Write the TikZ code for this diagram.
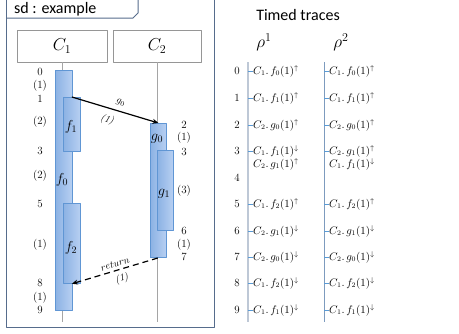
\documentclass[tikz,border=0pt]{standalone}
\usepackage{fontspec}
\newfontfamily\calfont{Carlito}
\usetikzlibrary{arrows.meta}
\definecolor{framec}{RGB}{86,108,140}
\definecolor{boxc}{RGB}{150,150,150}
\definecolor{lifec}{RGB}{165,165,165}
\definecolor{barline}{RGB}{96,150,212}
\definecolor{barleft}{RGB}{140,178,228}
\definecolor{barright}{RGB}{184,208,242}
\definecolor{traceA}{RGB}{190,200,214}
\definecolor{traceB}{RGB}{125,155,190}
\definecolor{tickc}{RGB}{91,155,213}
\newcommand\evu[2]{$C_{#1}.\,#2(1)^{\uparrow}$}
\newcommand\evd[2]{$C_{#1}.\,#2(1)^{\downarrow}$}
\tikzset{
  framel/.style={draw=framec,line width=1pt},
  obj/.style={draw=boxc,line width=0.8pt,minimum width=90pt,minimum height=32pt,inner sep=0pt,font=\LARGE},
  life/.style={draw=lifec,line width=0.6pt},
  bar/.style={draw=barline,line width=0.8pt,left color=barleft,right color=barright,minimum width=17pt,inner sep=0pt,anchor=north west},
  blab/.style={font=\Large,inner sep=0pt},
  tlab/.style={font=\fontsize{11}{13}\selectfont,inner sep=0pt},
  alab/.style={font=\normalsize,inner sep=1pt},
  msg/.style={-{Stealth[length=6pt,width=5pt]},line width=1.2pt},
  ret/.style={{Stealth[length=6pt,width=5pt]}-,line width=1.2pt,dash pattern=on 6pt off 4pt},
  ev/.style={anchor=west,inner sep=0pt,font=\fontsize{10.5}{12}\selectfont},
  tick/.style={draw=tickc,line width=0.8pt}
}
\begin{document}
\begin{tikzpicture}[x=1pt,y=-1pt,line join=round]
\useasboundingbox (0,0) rectangle (459,333);
% sequence diagram frame
\draw[framel] (6,0) -- (6,327) -- (214,327) -- (214,0);
\draw[framel] (6,18) -- (133,18) -- (138,13) -- (138,0);
\node[anchor=west,inner sep=0pt,font=\calfont\fontsize{16}{18}\selectfont] (sd) at (14,9) {sd : example};
% objects and lifelines
\node[obj] (c1) at (62,46) {$C_1$};
\node[obj,minimum width=88pt] (c2) at (157,46) {$C_2$};
\coordinate (e1) at (62,322); \coordinate (e2) at (157,322);
\draw[life] (c1) -- (e1);
\draw[life] (c2) -- (e2);
% activation bars
\node[bar,minimum height=240pt] (f0) at (55,70) {};
\node[bar,minimum height=54pt] (f1) at (63,97) {};
\node[bar,minimum height=80pt] (f2) at (63,203) {};
\node[bar,minimum width=16pt,minimum height=134pt] (g0) at (150,123) {};
\node[bar,minimum width=16pt,minimum height=80pt] (g1) at (157,150) {};
\node[blab] (lf0) at (62,180) {$f_0$};
\node[blab] (lf1) at (71,127) {$f_1$};
\node[blab] (lf2) at (71,248) {$f_2$};
\node[blab] (lg0) at (157,139) {$g_0$};
\node[blab] (lg1) at (164,194) {$g_1$};
% messages
\draw[msg] (f1.north) -- (g0.north)
  node[midway,above=4pt,sloped,alab,xshift=3pt] (mg) {$g_0$}
  node[midway,below=5pt,sloped,alab,xshift=-5pt] (mgd) {\textit{(1)}};
\draw[ret] (f2.south) -- (g0.south)
  node[midway,above=2pt,sloped,alab,xshift=2pt] (mr) {$return$}
  node[midway,below=3pt,sloped,alab,xshift=4pt] (mrd) {\textit{(1)}};
% time stamps
\foreach \y/\t [count=\i] in {72/0,86/(1),99/1,122/(2),151/3,176/(2),204/5,245/(1),283/8,298/(1),310/9}
  \node[tlab] (tl\i) at (40,\y) {\t};
\foreach \y/\t [count=\i] in {125/2,138/(1),152/3,191/(3),231/6,245/(1),257/7}
  \node[tlab] (tr\i) at (184,\y) {\t};
% timed traces
\node[font=\calfont\fontsize{16}{18}\selectfont] (tt) at (298,15) {Timed traces};
\node[font=\LARGE] (rho1) at (264,42) {$\rho^1$};
\node[font=\LARGE] (rho2) at (341,42) {$\rho^2$};
\draw[draw=traceA,line width=1.6pt] (248,62) -- (248,322);
\draw[draw=traceB,line width=1pt] (324,62) -- (324,322);
\foreach \n/\y in {0/71,1/98,2/125,3/151,4/178,5/204,6/231,7/257,8/283,9/310}
  \node[tlab] (n\n) at (237,\y) {\n};
\foreach \n/\y/\p/\q in {0/71/{\evu1{f_0}}/{\evu1{f_0}},1/98/{\evu1{f_1}}/{\evu1{f_1}},
    2/125/{\evu2{g_0}}/{\evu2{g_0}},3/151/{\evd1{f_1}}/{\evu2{g_1}},5/204/{\evu1{f_2}}/{\evu1{f_2}},
    6/231/{\evd2{g_1}}/{\evd2{g_1}},7/257/{\evd2{g_0}}/{\evd2{g_0}},8/283/{\evd1{f_2}}/{\evd1{f_2}},
    9/310/{\evd1{f_1}}/{\evd1{f_1}}}{
  \draw[tick] (248,\y) -- (253,\y);
  \draw[tick] (324,\y) -- (329,\y);
  \node[ev] (a\n) at (253,\y) {\p};
  \node[ev] (b\n) at (329,\y) {\q};
}
\node[ev] (a3b) at (253,164) {\evu2{g_1}};
\node[ev] (b3b) at (329,164) {\evd1{f_1}};
\end{tikzpicture}
\end{document}
